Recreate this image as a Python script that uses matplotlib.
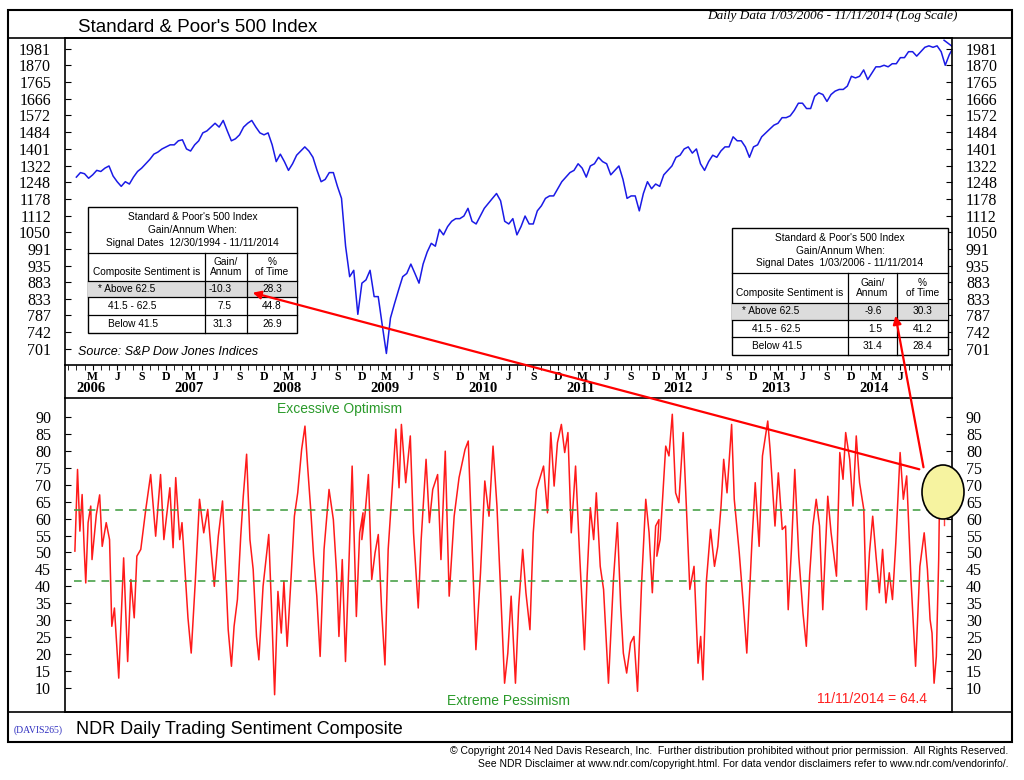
import numpy as np
import matplotlib
matplotlib.use("Agg")
import matplotlib.pyplot as plt
from matplotlib.patches import Rectangle, Ellipse, FancyArrowPatch
from matplotlib.lines import Line2D

# ---- data ----
spx_start = 2006.0
spx_step = 1 / 24.0   # two readings per month
spx_values = [
    1270, 1290, 1285, 1265, 1280, 1300, 1295, 1310, 1320, 1275, 1250, 1230,
    1250, 1240, 1270, 1295, 1310, 1330, 1350, 1375, 1385, 1400, 1410, 1420,
    1420, 1440, 1445, 1400, 1390, 1420, 1440, 1480, 1490, 1510, 1530, 1510,
    1545, 1490, 1440, 1450, 1470, 1510, 1530, 1545, 1510, 1480, 1470, 1480,
    1420, 1340, 1375, 1340, 1300, 1330, 1370, 1390, 1410, 1390, 1360, 1300,
    1250, 1260, 1290, 1290, 1230, 1180, 1000, 900, 920, 790, 880, 890,
    920, 840, 840, 760, 690, 780, 820, 860, 900, 910, 940, 910,
    880, 940, 980, 1010, 1000, 1060, 1040, 1070, 1090, 1100, 1100, 1110,
    1140, 1090, 1080, 1110, 1140, 1160, 1180, 1200, 1170, 1090, 1080, 1100,
    1040, 1070, 1110, 1080, 1080, 1130, 1150, 1180, 1190, 1190, 1220, 1250,
    1270, 1290, 1300, 1330, 1310, 1270, 1320, 1330, 1360, 1340, 1330, 1280,
    1300, 1320, 1260, 1180, 1190, 1190, 1130, 1200, 1250, 1220, 1240, 1230,
    1280, 1300, 1320, 1360, 1370, 1400, 1410, 1380, 1400, 1330, 1300, 1340,
    1370, 1360, 1390, 1410, 1410, 1460, 1440, 1440, 1410, 1360, 1410, 1420,
    1460, 1480, 1500, 1520, 1530, 1560, 1560, 1570, 1600, 1640, 1640, 1610,
    1610, 1680, 1700, 1690, 1650, 1690, 1710, 1720, 1720, 1740, 1800, 1790,
    1800, 1840, 1780, 1820, 1860, 1860, 1870, 1860, 1880, 1880, 1920, 1920,
    1960, 1960, 1930, 1960, 1990, 2000, 1990, 2000, 1960, 1870, 1940, 1990,
    2039,
]

sent_dates = [
    2005.985, 2006.012, 2006.036, 2006.059, 2006.079, 2006.096, 2006.120, 2006.147, 2006.160,
    2006.204, 2006.238, 2006.264, 2006.305, 2006.339, 2006.362, 2006.389, 2006.433, 2006.483,
    2006.524, 2006.557, 2006.591, 2006.618, 2006.658, 2006.709, 2006.759, 2006.810, 2006.860,
    2006.894, 2006.955, 2006.988, 2007.015, 2007.056, 2007.079, 2007.140, 2007.173, 2007.214,
    2007.258, 2007.301, 2007.342, 2007.375, 2007.409, 2007.450, 2007.493, 2007.527, 2007.551,
    2007.584, 2007.611, 2007.645, 2007.679, 2007.705, 2007.739, 2007.773, 2007.806, 2007.840,
    2007.864, 2007.907, 2007.965, 2007.998, 2008.025, 2008.059, 2008.093, 2008.120, 2008.153,
    2008.194, 2008.227, 2008.261, 2008.301, 2008.335, 2008.362, 2008.396, 2008.423, 2008.456,
    2008.490, 2008.530, 2008.581, 2008.625, 2008.658, 2008.682, 2008.716, 2008.749, 2008.783,
    2008.817, 2008.860, 2008.894, 2008.928,
    2008.916, 2008.950, 2008.983, 2009.017, 2009.051, 2009.084, 2009.118, 2009.152, 2009.185,
    2009.219, 2009.263, 2009.296, 2009.320, 2009.364, 2009.411, 2009.444, 2009.492, 2009.522,
    2009.572, 2009.606, 2009.640, 2009.690, 2009.724, 2009.768, 2009.808, 2009.859, 2009.909,
    2009.970, 2010.003, 2010.037, 2010.081, 2010.128, 2010.172, 2010.215, 2010.256, 2010.296,
    2010.330, 2010.374, 2010.407, 2010.441, 2010.485, 2010.518, 2010.559, 2010.592, 2010.633,
    2010.667, 2010.700, 2010.772, 2010.812, 2010.846, 2010.880, 2010.914, 2010.954, 2010.988,
    2011.021, 2011.055, 2011.099, 2011.143, 2011.190, 2011.217, 2011.250, 2011.284, 2011.311,
    2011.351, 2011.385, 2011.435, 2011.486, 2011.526, 2011.560, 2011.587, 2011.621, 2011.661,
    2011.695, 2011.732, 2011.772, 2011.816, 2011.850, 2011.883, 2011.917, 2011.951,
    2011.929, 2011.963, 2011.996, 2012.020, 2012.053, 2012.087, 2012.121, 2012.154, 2012.198,
    2012.232, 2012.266, 2012.309, 2012.350, 2012.377, 2012.400, 2012.434, 2012.478, 2012.518,
    2012.552, 2012.585, 2012.612, 2012.646, 2012.693, 2012.720, 2012.771, 2012.814, 2012.848,
    2012.900, 2012.934, 2012.974, 2013.008, 2013.062, 2013.086, 2013.136, 2013.170, 2013.210,
    2013.244, 2013.271, 2013.304, 2013.338, 2013.379, 2013.422, 2013.456, 2013.490, 2013.523,
    2013.557, 2013.591, 2013.624, 2013.675, 2013.709, 2013.764, 2013.798, 2013.831, 2013.858,
    2013.899, 2013.932, 2013.966, 2014.000, 2014.043, 2014.070, 2014.101, 2014.134, 2014.168,
    2014.202, 2014.235, 2014.269, 2014.303, 2014.336, 2014.370, 2014.414, 2014.447, 2014.481,
    2014.525, 2014.572, 2014.616, 2014.660, 2014.693, 2014.720, 2014.740, 2014.761, 2014.784,
    2014.808, 2014.818, 2014.863,
]
sent_values = [
    50.4, 74.5, 56.3, 67.1, 51.8, 41.0, 58.8, 63.7, 47.9,
    61.2, 67.0, 51.8, 58.8, 53.8, 28.2, 33.6, 12.9, 48.4,
    17.8, 42.0, 30.7, 48.9, 50.9, 62.7, 73.0, 54.8, 73.0,
    53.8, 69.1, 51.4, 72.1, 53.8, 58.8, 30.7, 20.3, 41.0,
    65.7, 55.8, 62.7, 50.9, 40.0, 54.8, 65.2, 43.0, 27.2,
    16.4, 28.2, 36.1, 54.8, 66.6, 79.0, 53.8, 45.0, 25.2,
    18.3, 40.0, 55.3, 30.2, 8.0, 38.5, 26.2, 41.5, 22.3,
    43.0, 60.7, 67.6, 80.4, 87.3, 75.5, 61.7, 48.9, 37.1,
    19.3, 50.9, 68.6, 59.7, 44.0, 25.2, 47.9, 17.8, 45.9,
    75.5, 31.1, 55.8, 61.7,
    53.8, 61.7, 73.0, 42.0, 49.9, 55.3, 33.1, 16.8, 50.9,
    65.7, 86.4, 69.1, 87.8, 70.6, 84.4, 55.8, 33.6, 53.8,
    77.5, 58.8, 68.6, 73.0, 47.9, 79.9, 37.1, 60.7, 72.1,
    80.4, 82.9, 55.8, 21.3, 44.0, 71.1, 60.7, 81.4, 63.7,
    41.0, 11.4, 20.3, 37.1, 11.4, 34.1, 50.9, 38.1, 27.2,
    55.8, 68.6, 75.5, 61.7, 85.4, 69.6, 82.4, 87.8, 79.5,
    85.4, 55.8, 75.5, 47.9, 21.3, 43.0, 63.2, 53.8, 67.6,
    45.9, 39.1, 11.4, 42.0, 58.8, 34.1, 20.3, 14.4, 23.3,
    25.2, 9.0, 40.0, 65.7, 55.8, 38.1, 57.8, 59.7,
    48.9, 53.8, 69.6, 81.4, 78.5, 90.8, 67.6, 64.7, 85.4,
    62.7, 39.1, 45.9, 17.3, 25.2, 12.4, 41.0, 56.8, 45.9,
    51.8, 63.7, 77.5, 67.6, 87.8, 65.7, 49.9, 34.1, 20.3,
    52.8, 70.6, 51.8, 78.5, 88.8, 80.4, 57.8, 73.5, 56.8,
    57.8, 33.1, 50.9, 74.5, 48.9, 32.1, 22.3, 43.4, 57.8,
    65.7, 57.8, 33.1, 66.6, 55.8, 43.0, 79.5, 71.6, 85.4,
    77.5, 63.7, 84.4, 70.6, 62.7, 33.1, 49.9, 60.7, 48.9,
    38.1, 50.9, 35.1, 44.0, 36.1, 52.8, 79.5, 65.7, 72.6,
    42.0, 16.4, 45.9, 55.8, 45.0, 30.2, 26.2, 11.4, 19.3,
    47.9, 68.6, 64.4,
]

spx_ticks = [701, 742, 787, 833, 883, 935, 991, 1050, 1112, 1178, 1248,
             1322, 1401, 1484, 1572, 1666, 1765, 1870, 1981]
sent_ticks = list(range(10, 95, 5))
upper_band = 62.5
lower_band = 41.5
years = list(range(2006, 2015))
month_letters = {3: "M", 6: "J", 9: "S", 12: "D"}

table_left = ["Standard & Poor's 500 Index", "Gain/Annum When:", "12/30/1994",
              [("* Above 62.5", "-10.3", "28.3"), ("41.5 - 62.5", "7.5", "44.8"),
               ("Below 41.5", "31.3", "26.9")]]
table_right = ["Standard & Poor's 500 Index", "Gain/Annum When:", "1/03/2006",
               [("* Above 62.5", "-9.6", "30.3"), ("41.5 - 62.5", "1.5", "41.2"),
                ("Below 41.5", "31.4", "28.4")]]

# ---- figure ----
W, H = 1024, 780
fig = plt.figure(figsize=(W / 100, H / 100), dpi=100)
serif = "Liberation Serif"
sans = "Liberation Sans"


def fx(x):
    return x / W


def fy(y):
    return 1 - y / H


def box(x0, y0, x1, y1):
    return [fx(x0), fy(y1), fx(x1) - fx(x0), fy(y0) - fy(y1)]


ax1 = fig.add_axes(box(65, 38, 952, 365))
ax2 = fig.add_axes(box(65, 398, 952, 712))

spx_dates = [spx_start + i * spx_step for i in range(len(spx_values))]
spx_dates[-1] = 2014.863
ax1.plot(spx_dates, spx_values, color="#1a1ae6", lw=1.1)
ax1.set_yscale("log")
ax1.set_ylim(663, 2055)
ax1.set_yticks(spx_ticks)
ax1.set_yticklabels([str(t) for t in spx_ticks])
ax1.minorticks_off()

ax2.plot(sent_dates, sent_values, color="#ff1a1a", lw=1.1)
ax2.set_ylim(2.9, 95.6)
ax2.set_yticks(sent_ticks)
ax2.hlines([upper_band, lower_band], 2005.98, 2014.86, colors="#3a9a3a",
           linestyles=(0, (5, 4)), lw=1.1)

xlo, xhi = 2005.884, 2014.944
major = [y + (m - 1) / 12 for y in years for m in month_letters if y + (m - 1) / 12 < 2014.9]
major_lab = [month_letters[m] for y in years for m in month_letters if y + (m - 1) / 12 < 2014.9]
minor = [y + m / 12 for y in range(2005, 2015) for m in range(12)
         if xlo < y + m / 12 < xhi]

for ax in (ax1, ax2):
    ax.set_xlim(xlo, xhi)
    ax.tick_params(axis="y", which="both", direction="in", left=True, right=True,
                   labelleft=True, labelright=True, length=4, pad=10,
                   labelsize=11.5)
    for lab in ax.get_yticklabels():
        lab.set_fontfamily(serif)
    for s in ax.spines.values():
        s.set_linewidth(1.2)

ax1.set_xticks(major)
ax1.set_xticklabels(major_lab, fontfamily=serif, fontweight="bold", fontsize=8.5)
ax1.set_xticks(minor, minor=True)
ax1.tick_params(axis="x", which="both", direction="out", length=3.5, pad=0.5)
ax2.set_xticks([])
for y in years:
    ax1.text(y + 0.15, -24 / 327, str(y), transform=ax1.get_xaxis_transform(),
             ha="center", va="center", fontfamily=serif, fontweight="bold", fontsize=10.5)

# frame and header
fig.add_artist(Rectangle((fx(8), fy(742)), fx(1012) - fx(8), fy(10) - fy(742),
                         transform=fig.transFigure, fill=False, lw=1.5, color="black"))
for yy in (38, 712):
    fig.add_artist(Line2D([fx(8), fx(1012)], [fy(yy), fy(yy)], color="black", lw=1.2))
for xx in (65, 952):
    fig.add_artist(Line2D([fx(xx), fx(xx)], [fy(365), fy(398)], color="black", lw=1.2))
fig.text(fx(78), fy(28), "Standard & Poor's 500 Index", fontsize=13.5,
         fontfamily=sans, va="center")
fig.text(fx(958), fy(16), "Daily Data 1/03/2006 - 11/11/2014 (Log Scale)",
         fontsize=9.5, fontfamily=serif, style="italic", ha="right", va="center")
fig.text(fx(78), fy(352), "Source: S&P Dow Jones Indices", fontsize=9,
         fontfamily=sans, style="italic", va="center")

ax2.text(0.31, 0.965, "Excessive Optimism", transform=ax2.transAxes, color="#2a9a2a",
         fontsize=10, fontfamily=sans, ha="center", va="center")
ax2.text(0.50, 0.035, "Extreme Pessimism", transform=ax2.transAxes, color="#2a9a2a",
         fontsize=10, fontfamily=sans, ha="center", va="center")
ax2.text(0.91, 0.04, "11/11/2014 = 64.4", transform=ax2.transAxes, color="#ff2020",
         fontsize=10, fontfamily=sans, ha="center", va="center")

fig.text(fx(14), fy(730), "(DAVIS265)", color="#3030c0", fontsize=7,
         fontfamily=serif, va="center")
fig.text(fx(76), fy(729), "NDR Daily Trading Sentiment Composite", fontsize=13,
         fontfamily=sans, va="center")
fig.text(fx(1008), fy(751), "\u00a9 Copyright 2014 Ned Davis Research, Inc.  Further "
         "distribution prohibited without prior permission.  All Rights Reserved.",
         fontsize=7.5, fontfamily=sans, ha="right", va="center")
fig.text(fx(1008), fy(764), "See NDR Disclaimer at www.ndr.com/copyright.html. For data "
         "vendor disclaimers refer to www.ndr.com/vendorinfo/.",
         fontsize=7.5, fontfamily=sans, ha="right", va="center")


def draw_table(x0, x1, c1, c2, ys, spec):
    title, sub, since, rows = spec
    fs = 7.3
    fig.add_artist(Rectangle((fx(x0), fy(ys[-1])), fx(x1) - fx(x0), fy(ys[0]) - fy(ys[-1]),
                             transform=fig.transFigure, facecolor="white",
                             edgecolor="black", lw=1.0, zorder=5))
    fig.add_artist(Rectangle((fx(x0), fy(ys[3])), fx(x1) - fx(x0), fy(ys[2]) - fy(ys[3]),
                             transform=fig.transFigure, facecolor="#dcdcdc",
                             edgecolor="none", zorder=5))
    for yy in ys[1:-1]:
        fig.add_artist(Line2D([fx(x0), fx(x1)], [fy(yy), fy(yy)], color="black",
                              lw=0.9, zorder=6))
    for xx in (c1, c2):
        fig.add_artist(Line2D([fx(xx), fx(xx)], [fy(ys[1]), fy(ys[-1])], color="black",
                              lw=0.9, zorder=6))
    xm = (x0 + x1) / 2
    h = ys[1] - ys[0]
    kw = dict(fontsize=fs, fontfamily=sans, ha="center", va="center", zorder=7)
    fig.text(fx(xm), fy(ys[0] + h * 0.22), title, **kw)
    fig.text(fx(xm), fy(ys[0] + h * 0.5), sub, **kw)
    fig.text(fx(xm), fy(ys[0] + h * 0.78), "Signal Dates  " + since + " - 11/11/2014", **kw)
    hy = (ys[1] + ys[2]) / 2
    fig.text(fx((x0 + c1) / 2), fy(hy + 5), "Composite Sentiment is", **kw)
    fig.text(fx((c1 + c2) / 2), fy(hy), "Gain/\nAnnum", linespacing=1.1, **kw)
    fig.text(fx((c2 + x1) / 2), fy(hy), "%\nof Time", linespacing=1.1, **kw)
    for i, (a, b, c) in enumerate(rows):
        ry = (ys[2 + i] + ys[3 + i]) / 2
        fig.text(fx(x0 + 10 + (0 if a.startswith("*") else 10)), fy(ry), a,
                 fontsize=fs, fontfamily=sans, va="center", zorder=7)
        fig.text(fx(c2 - 15), fy(ry), b, fontsize=fs, fontfamily=sans, ha="right",
                 va="center", zorder=7)
        fig.text(fx((c2 + x1) / 2), fy(ry), c, **kw)


draw_table(88, 297, 205, 247, [207, 253, 281, 297, 315, 333], table_left)
draw_table(732, 948, 848, 897, [228, 273, 303, 320, 337, 355], table_right)

# highlight circle and arrows
fig.add_artist(Ellipse((fx(943), fy(492)), 42 / W, 54 / H, transform=fig.transFigure,
                       facecolor="#f6f3a0", edgecolor="black", lw=1.2, zorder=8))
ax2.plot([2014.863, 2014.863], [58, 68.5], color="#ff4040", lw=1.0, zorder=9)
arrow = dict(arrowstyle="-|>", color="#ff0000", lw=1.6, mutation_scale=12)
fig.add_artist(FancyArrowPatch((fx(922), fy(470)), (fx(250), fy(292)),
                               transform=fig.transFigure, zorder=9, **arrow))
fig.add_artist(FancyArrowPatch((fx(924), fy(470)), (fx(895), fy(313)),
                               transform=fig.transFigure, zorder=9, **arrow))

fig.savefig("out.png", dpi=100)
